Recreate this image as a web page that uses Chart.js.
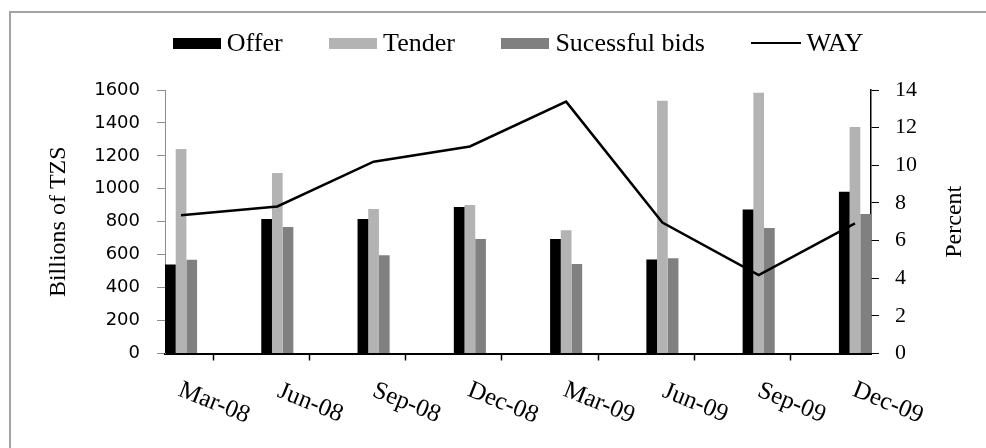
<!DOCTYPE html>
<html>
<head>
<meta charset="utf-8">
<title>Treasury bond auctions</title>
<script src="https://cdn.jsdelivr.net/npm/chart.js@4.4.1/dist/chart.umd.min.js"></script>
<style>
  html, body { margin: 0; padding: 0; overflow: hidden; background: #fff; }
  #wrap { position: relative; width: 986px; height: 448px; overflow: hidden; }
  #frame { position: absolute; left: 9px; top: 11px; width: 1200px; height: 600px; border: 2px solid #a3a3a3; box-sizing: border-box; }
  #chart { position: absolute; left: 0; top: 0; }
  #legend { position: absolute; top: 30px; display: flex; justify-content: center; align-items: center; gap: 46.5px;
            font-family: "Liberation Serif", "Times New Roman", serif; font-size: 26px; line-height: 26px; color: #000; }
  .item { display: flex; align-items: center; white-space: nowrap; }
  .swatch { display: inline-block; width: 48px; height: 11px; margin-right: 6px; }
  .swatch.line { width: 50px; height: 2.5px; margin-right: 5px; }
</style>
</head>
<body>
<div id="wrap">
  <div id="frame"></div>
  <canvas id="chart" width="986" height="448"></canvas>
  <div id="legend"></div>
</div>
<script>
// Quarterly auction figures (billions of TZS) and weighted average yield (percent)
const quarters = ['Mar-08', 'Jun-08', 'Sep-08', 'Dec-08', 'Mar-09', 'Jun-09', 'Sep-09', 'Dec-09'];
const offer = [541, 816, 816, 889, 695, 571, 875, 982];
const tender = [1241, 1096, 877, 901, 749, 1535, 1584, 1375];
const successfulBids = [569, 768, 597, 695, 543, 579, 762, 847];
const way = [7.35, 7.81, 10.19, 11.0, 13.38, 6.96, 4.16, 6.91];

// each bar group fills a third of a quarter and starts at its tick mark
const GROUP = 1 / 3;

const points = values => values.map((v, i) => ({ x: i, y: v }));

const serif = '"Liberation Serif", "Times New Roman", serif';

// legend built as HTML above the plot, centred on the chart area
const htmlLegend = {
    id: 'htmlLegend',
    afterUpdate(chart) {
        const box = document.getElementById('legend');
        const area = chart.chartArea;
        box.innerHTML = '';
        box.style.left = area.left + 'px';
        box.style.width = (area.right - area.left) + 'px';
        chart.data.datasets.forEach(ds => {
            const item = document.createElement('div');
            item.className = 'item';
            const swatch = document.createElement('span');
            const isLine = ds.type === 'line';
            swatch.className = isLine ? 'swatch line' : 'swatch';
            swatch.style.background = isLine ? ds.borderColor : ds.backgroundColor;
            item.appendChild(swatch);
            item.appendChild(document.createTextNode(ds.label));
            box.appendChild(item);
        });
    }
};

// slanted quarter labels, hanging down to the right of each tick
const quarterLabels = {
    id: 'quarterLabels',
    afterDraw(chart) {
        const { ctx, chartArea, scales } = chart;
        const x = scales.x;
        ctx.save();
        ctx.font = '25px ' + serif;
        ctx.fillStyle = '#000';
        ctx.textAlign = 'center';
        ctx.textBaseline = 'middle';
        quarters.forEach((q, i) => {
            const tickX = x.getPixelForValue(i - GROUP / 2);
            ctx.save();
            ctx.translate(tickX + 49, chartArea.bottom + 49.5);
            ctx.rotate(22 * Math.PI / 180);
            ctx.fillText(q, 0, 0);
            ctx.restore();
        });
        ctx.restore();
    }
};

// right axis title reads bottom to top like the left one
const rightTitle = {
    id: 'rightTitle',
    afterDraw(chart) {
        const { ctx, chartArea, scales } = chart;
        const y1 = scales.y1;
        ctx.save();
        ctx.font = '24px ' + serif;
        ctx.fillStyle = '#000';
        ctx.textAlign = 'center';
        ctx.textBaseline = 'middle';
        ctx.translate(y1.left + 84, (chartArea.top + chartArea.bottom) / 2);
        ctx.rotate(-Math.PI / 2);
        ctx.fillText('Percent', 0, 0);
        ctx.restore();
    }
};

const ctx = document.getElementById('chart');

new Chart(ctx, {
    type: 'bar',
    data: {
        datasets: [
            { label: 'Offer', data: points(offer), backgroundColor: '#000000', yAxisID: 'y', order: 1 },
            { label: 'Tender', data: points(tender), backgroundColor: '#b3b3b3', yAxisID: 'y', order: 1 },
            { label: 'Sucessful bids', data: points(successfulBids), backgroundColor: '#808080', yAxisID: 'y', order: 1 },
            {
                type: 'line',
                label: 'WAY',
                data: points(way),
                borderColor: '#000000',
                backgroundColor: '#000000',
                borderWidth: 2.5,
                pointRadius: 0,
                tension: 0,
                yAxisID: 'y1',
                order: 0
            }
        ]
    },
    options: {
        responsive: false,
        animation: false,
        events: [],
        devicePixelRatio: 1,
        datasets: {
            bar: { categoryPercentage: GROUP, barPercentage: 1, borderWidth: 0 }
        },
        layout: { padding: { top: 90, left: 0, right: 0, bottom: 0 } },
        plugins: {
            legend: { display: false },
            tooltip: { enabled: false }
        },
        scales: {
            x: {
                type: 'linear',
                offset: false,
                min: -GROUP / 2,
                max: quarters.length - 1 + GROUP / 2,
                afterBuildTicks: scale => {
                    scale.ticks = quarters.map((q, i) => ({ value: i - GROUP / 2 }));
                },
                afterFit: scale => { scale.height = 94.5; },
                ticks: { display: false },
                grid: { drawOnChartArea: false, drawTicks: true, tickLength: 7, tickColor: '#000', tickWidth: 1.5 },
                border: { color: '#000', width: 2 }
            },
            y: {
                position: 'left',
                min: 0,
                max: 1600,
                afterFit: scale => { scale.width = 165; },
                ticks: {
                    stepSize: 200,
                    padding: 17,
                    color: '#000',
                    font: { family: '"DejaVu Sans", sans-serif', size: 18 },
                    callback: value => String(value)
                },
                grid: { drawOnChartArea: false, tickLength: 8, color: '#8c8c8c' },
                border: { color: '#8c8c8c', width: 1 },
                title: {
                    display: true,
                    text: 'Billions of TZS',
                    color: '#000',
                    font: { family: serif, size: 24 },
                    padding: { top: 44.6, bottom: 0 }
                }
            },
            y1: {
                position: 'right',
                min: 0,
                max: 14,
                afterFit: scale => { scale.width = 115; },
                ticks: {
                    stepSize: 2,
                    padding: 16,
                    color: '#000',
                    font: { family: serif, size: 22 }
                },
                grid: { drawOnChartArea: false, tickLength: 8, color: '#000' },
                border: { color: '#000', width: 1.5 }
            }
        }
    },
    plugins: [htmlLegend, quarterLabels, rightTitle]
});
</script>
</body>
</html>
